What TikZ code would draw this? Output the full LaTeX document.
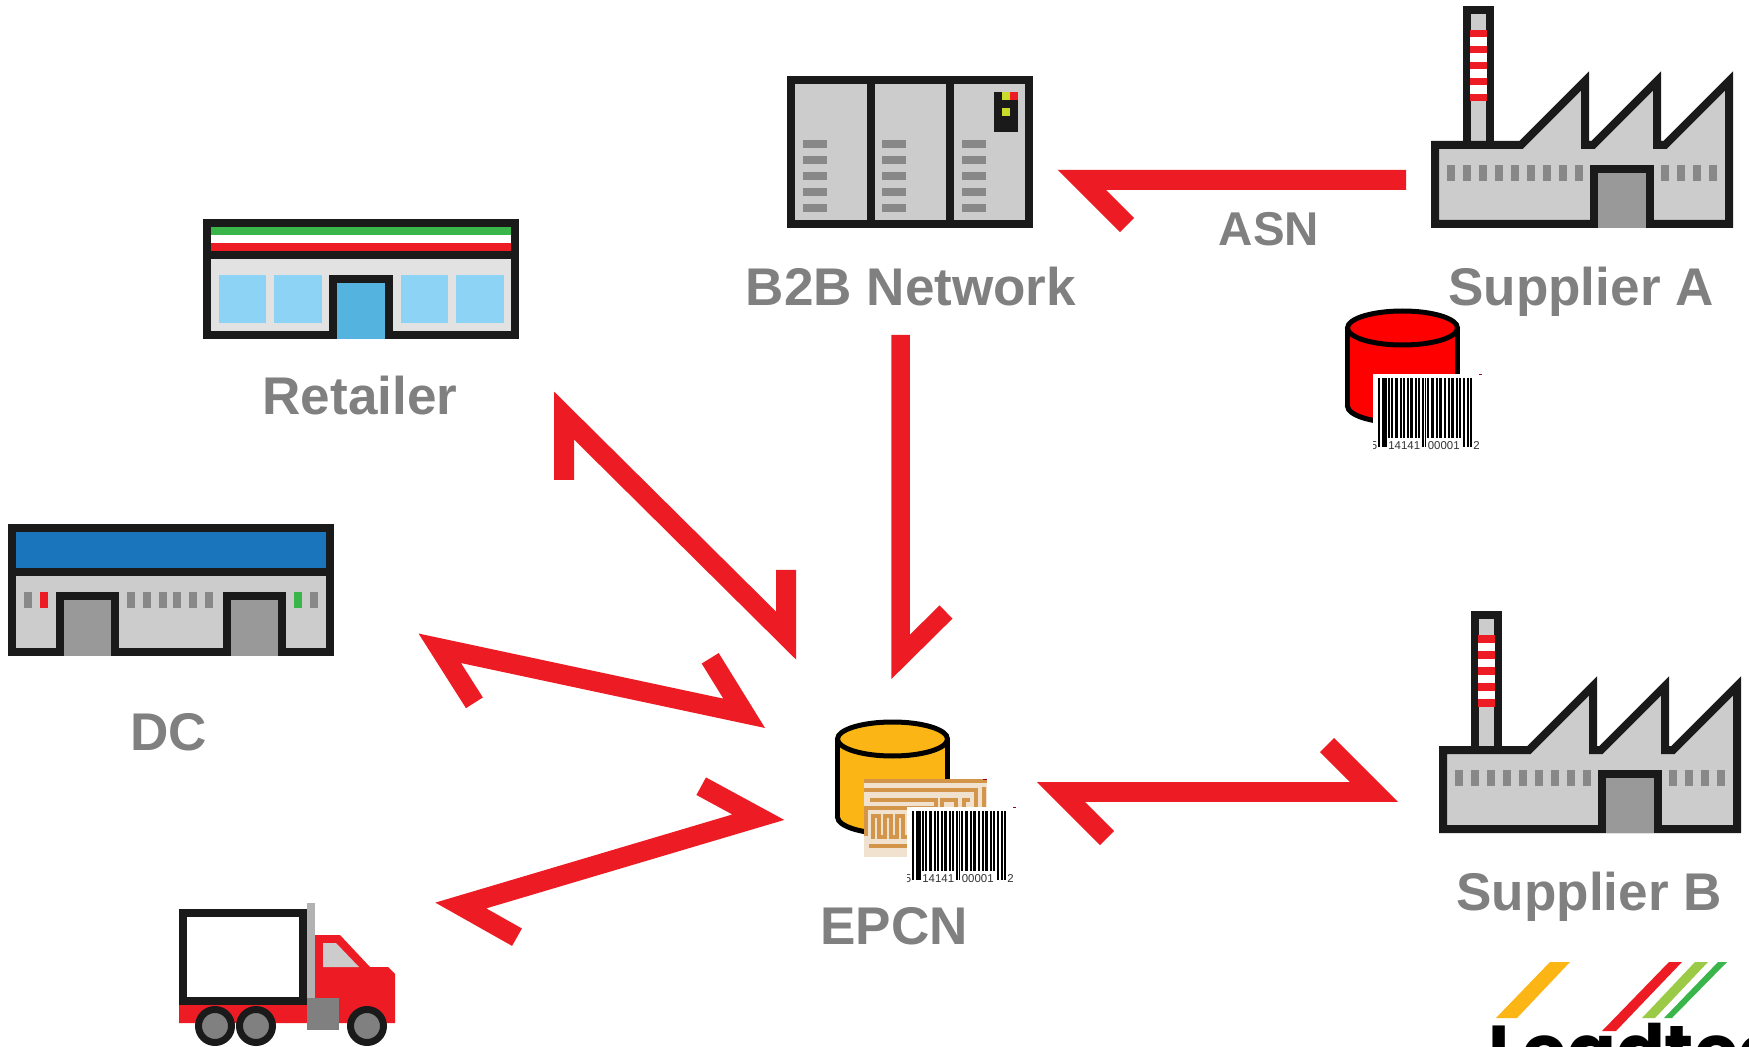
\documentclass[tikz,border=0pt]{standalone}
\usepackage{fontspec}
\setmainfont{Liberation Sans}
\newfontfamily\logofont{Poppins}
\tikzset{
  lab/.style={font=\bfseries\fontsize{30.2}{30}\selectfont, text=MyGray, inner sep=0pt},
  smalllab/.style={font=\bfseries\fontsize{27}{27}\selectfont, text=MyGray, inner sep=0pt},
  icon/.style={draw=MyBlack, line width=0.16cm},
  flow/.style={draw=MyRed, line width=0.4cm, miter limit=10},
  trace/.style={draw=MyCopper, line width=0.085cm},
  pics/factory/.style={code={
    \draw[icon, fill=MyLight] (36,139) -- (36,4) -- (59,4) -- (59,139);
    \fill[white] (39,24) rectangle (56,95);
    \foreach \y in {24,40,56,72,88}{
      \fill[MyRed] (39,\y) rectangle (56,\y+7.5);
    }
    \draw[icon, fill=MyLight] (4,139) -- (90,139) -- (154,75) -- (154,139) -- (162,139) -- (226,75) -- (226,139) -- (234,139) -- (298,75) -- (298,218) -- (4,218) -- cycle;
    \foreach \x in {16,32,...,144,230,246,262,278}{
      \fill[MyMid] (\x,159) rectangle (\x+8,175);
    }
    \draw[icon, fill=MyDoor] (163,222) -- (163,163) -- (219,163) -- (219,222);
  }},
  pics/drum/.style={code={
    \draw[draw=black, line width=0.1cm, fill=#1] (0,78) circle [x radius=55, y radius=17];
    \fill[#1] (-55,0) rectangle (55,78);
    \draw[black, line width=0.1cm] (-55,0) -- (-55,78);
    \draw[black, line width=0.1cm] (55,0) -- (55,78);
    \draw[draw=black, line width=0.1cm, fill=#1] (0,0) circle [x radius=55, y radius=17];
  }},
  pics/barcode/.style={code={
    \fill[white] (0,0) rectangle (109,76);
    \fill[MyTick] (106,0) rectangle (109,1);
    \begin{scope}
    \clip (0,0) rectangle (109,76);
    \foreach \x/\w in {15/2, 18/1.5, 22/3, 27/1.5, 30/2, 34/1.5, 37/3, 42/1.5, 45/2, 54/2, 58/3, 63/1.5, 66/3, 71/2, 75/1.5, 78/3, 83/1.5, 86/2}{
      \fill[black] (\x,4) rectangle (\x+\w,64);
    }
    \foreach \x/\w in {5/2, 9/5, 49/1.5, 52/1, 90/2, 94/1.5, 97/1.5}{
      \fill[black] (\x,4) rectangle (\x+\w,73);
    }
    \node[digits] (code) at (51,72) {14141\hspace{2.6pt} 00001};
    \node[digits] (left) at (1,72) {5};
    \node[digits, anchor=west] (right) at (100,72) {2 4};
    \end{scope}
  }},
  digits/.style={font=\fontsize{6.5}{6.5}\selectfont, text=MyDark, inner sep=0pt},
}
\begin{document}
\begin{tikzpicture}[x=0.02cm, y=-0.02cm]
\definecolor{MyBlack}{HTML}{1A1A1A}
\definecolor{MyRed}{HTML}{ED1C24}
\definecolor{MyGray}{HTML}{808080}
\definecolor{MyLight}{HTML}{CCCCCC}
\definecolor{MyMid}{HTML}{888888}
\definecolor{MyDoor}{HTML}{999999}
\definecolor{MyWall}{HTML}{E2E2E2}
\definecolor{MyTick}{HTML}{A00030}
\definecolor{MyDark}{HTML}{333333}
\definecolor{MyAmber}{HTML}{FBB616}
\definecolor{MyCopper}{HTML}{D29549}
\definecolor{MyPale}{HTML}{F1E2CF}
\definecolor{MyGreen}{HTML}{39B54A}
\definecolor{MyLime}{HTML}{9BCB46}
\definecolor{MyYellow}{HTML}{CBDB2A}
\definecolor{MyBlue}{HTML}{1A75BC}
\definecolor{MySky}{HTML}{8CD3F5}
\definecolor{MyDoorBlue}{HTML}{55B4DF}
\useasboundingbox (0,0) rectangle (1749,1047);
\clip (0,0) rectangle (1749,1047);
\fill[white] (0,0) rectangle (1749,1047);

% supplier factories
\pic (suppa) at (1431,6) {factory};
\pic (suppb) at (1439,611) {factory};

% retailer
\draw[icon, fill=MyWall] (207,223) rectangle (515,335);
\fill[MyGreen] (211,227) rectangle (511,235);
\fill[white] (211,235) rectangle (511,243);
\fill[MyRed] (211,243) rectangle (511,251);
\draw[icon] (207,255) -- (515,255);
\foreach \x/\w in {219/47, 274/48, 401/47, 456/48}{
\fill[MySky] (\x,275) rectangle (\x+\w,323);
}
\draw[icon, fill=MyDoorBlue] (333,339) -- (333,279) -- (389,279) -- (389,339);

% distribution centre
\draw[icon, fill=MyLight] (12,528) rectangle (330,652);
\fill[MyBlue] (16,532) rectangle (326,568);
\draw[icon] (12,572) -- (330,572);
\foreach \x/\c in {24/MyMid, 40/MyRed, 127/MyMid, 143/MyMid, 159/MyMid, 173/MyMid, 189/MyMid, 205/MyMid, 294/MyGreen, 310/MyMid}{
\fill[\c] (\x,592) rectangle (\x+8,608);
}
\foreach \x in {60,227}{
\draw[icon, fill=MyDoor] (\x,656) -- (\x,596) -- (\x+55,596) -- (\x+55,656);
}

% b2b network
\draw[icon, fill=MyLight] (791,80) rectangle (1029,224);
\draw[icon] (871,80) -- (871,224);
\draw[icon] (950,80) -- (950,224);
\foreach \x in {803,882,962}{
\foreach \y in {140,156,172,188,204}{
\fill[MyMid] (\x,\y) rectangle (\x+24,\y+8);
}
}
\fill[MyBlack] (994,92) rectangle (1018,132);
\fill[MyYellow] (1002,92) rectangle (1010,100);
\fill[MyRed] (1010,92) rectangle (1018,100);
\fill[MyYellow] (1002,108) rectangle (1010,116);

% truck
\fill[MyRed] (315,935) -- (340,935) -- (370,967) -- (388,967) -- (395,974) -- (395,1023) -- (179,1023) -- (179,1005) -- (315,1005) -- cycle;
\fill[MyLight] (323,943) -- (336,943) -- (359,967) -- (323,967) -- cycle;
\draw[icon, fill=white] (183,913) rectangle (303,1001);
\fill[gray!60] (307,903) rectangle (315,998);
\fill[MyGray] (307,998) rectangle (339,1030);
\foreach \x in {215,256,367}{
\draw[draw=MyBlack, line width=0.14cm, fill=MyGray] (\x,1026) circle (16.5);
}

% databases
\pic (epcndrum) at (892.5,739) {drum=MyAmber};
\pic (suppadrum) at (1402.5,328) {drum=red};
\fill[MyPale] (864,779) rectangle (987,857);
\begin{scope}[shift={(864,779)}]
\fill[MyCopper] (0,0) rectangle (123,4);
\fill[MyTick] (119,0) rectangle (123,1);
\draw[trace] (0,11) -- (112,11) -- (112,30);
\draw[trace] (2,57) -- (2,29) -- (72,29) -- (72,21) -- (6,21);
\draw[trace] (78,30) -- (78,21) -- (92,21) -- (92,30) -- (100,30) -- (100,21) -- (106,21);
\draw[trace] (9,60) -- (9,37) -- (15,37) -- (15,58) -- (21,58) -- (21,37) -- (27,37) -- (27,58) -- (33,58) -- (33,37) -- (39,37) -- (39,58) -- (44,58);
\draw[trace] (5,67) -- (46,67);
\draw[trace] (110,37) -- (118,37);
\draw[trace] (120,8) -- (120,40);
\end{scope}
\pic (epcnbar) at (907,807) {barcode};
\pic (suppabar) at (1373,374) {barcode};

% labels
\node[lab] (b2b) at (911,287) {B2B Network};
\node[lab] (suppalabel) at (1581,291.5) {Supplier A};
\node[lab] (suppblabel) at (1589,896.5) {Supplier B};
\node[lab] (retailer) at (360,396) {Retailer};
\node[lab] (dc) at (168.5,732) {DC};
\node[lab] (epcn) at (894,926) {EPCN};
\node[smalllab] (asn) at (1269,229) {ASN};

% arrows
\coordinate (asntail) at (1406,180);
\coordinate (asntip) at (1082,180);
\coordinate (asnbarb) at (1127,225);
\draw[flow] (asntail) -- (asntip) -- (asnbarb);
\coordinate (b2btail) at (900.5,335);
\coordinate (b2btip) at (900.5,657);
\coordinate (b2bbarb) at (946,612);
\draw[flow, line width=0.37cm] (b2btail) -- (b2btip) -- (b2bbarb);
\coordinate (retbarba) at (564,480);
\coordinate (rettipa) at (564,415.5);
\coordinate (rettipb) at (786,635.5);
\coordinate (retbarbb) at (786,570);
\draw[flow] (retbarba) -- (rettipa) -- (rettipb) -- (retbarbb);
\coordinate (dcbarba) at (474.4,702.8);
\coordinate (dctipa) at (439.8,648.3);
\coordinate (dctipb) at (744.2,713.3);
\coordinate (dcbarbb) at (710.2,658.3);
\draw[flow] (dcbarba) -- (dctipa) -- (dctipb) -- (dcbarbb);
\coordinate (trkbarba) at (517,937.2);
\coordinate (trktipa) at (460.8,905.5);
\coordinate (trktipb) at (758.3,817.2);
\coordinate (trkbarbb) at (701.2,786.2);
\draw[flow] (trkbarba) -- (trktipa) -- (trktipb) -- (trkbarbb);
\coordinate (supbarba) at (1107,838);
\coordinate (suptipa) at (1061,792);
\coordinate (suptipb) at (1374,792);
\coordinate (supbarbb) at (1327,745);
\draw[flow] (supbarba) -- (suptipa) -- (suptipb) -- (supbarbb);

% logo
\fill[MyAmber] (1550,962) -- (1570,962) -- (1517,1018) -- (1496,1018) -- cycle;
\fill[MyRed] (1669,962) -- (1682,962) -- (1616,1031) -- (1602,1031) -- cycle;
\fill[MyLime] (1695,962) -- (1708,962) -- (1655,1018) -- (1642,1018) -- cycle;
\fill[MyGreen] (1718,962) -- (1727,962) -- (1672,1018) -- (1664,1018) -- cycle;
\node[anchor=base west, inner sep=0pt, font=\logofont\bfseries\fontsize{41}{41}\selectfont] (logotext) at (1488,1076) {Leadtec};
\end{tikzpicture}
\end{document}
